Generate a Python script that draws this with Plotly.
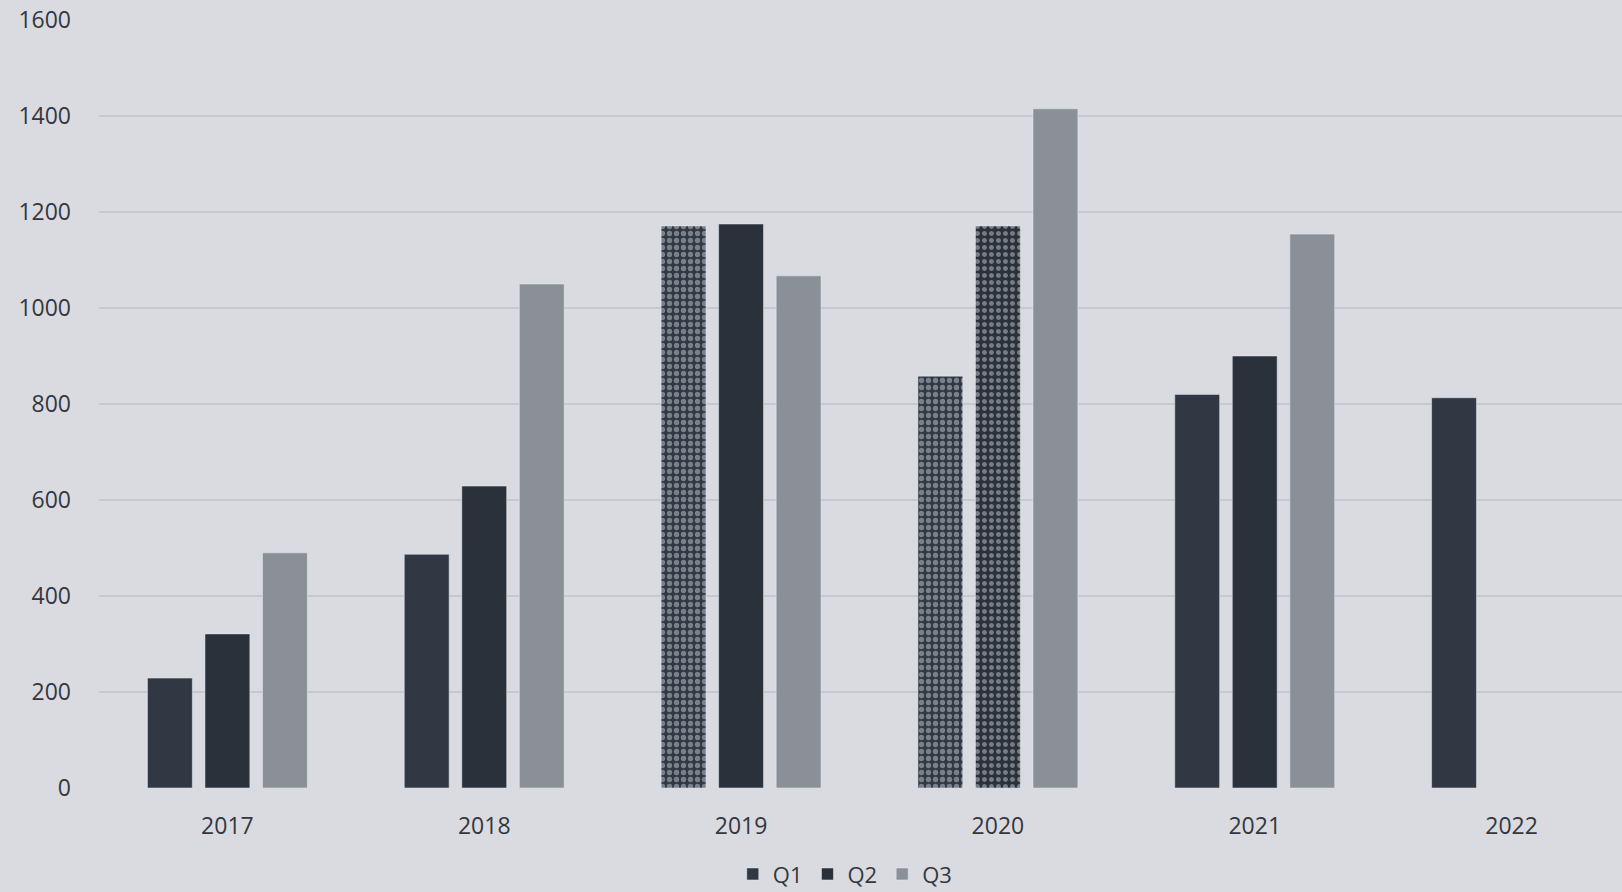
import plotly.graph_objects as go

years = ["2017", "2018", "2019", "2020", "2021", "2022"]
q1 = [229, 487, 1171, 858, 820, 813]
q2 = [321, 629, 1175, 1171, 900, None]
q3 = [490, 1050, 1067, 1415, 1154, None]
y_ticks = [0, 200, 400, 600, 800, 1000, 1200, 1400, 1600]

q1_patterns = ["", "", ".", ".", "", ""]
q2_patterns = ["", "", "", ".", "", ""]
q3_patterns = ["", "", "", "", "", ""]

BG = "#d9dbe1"
FONT = "Open Sans"
TXT = "#34373c"

fig = go.Figure()
fig.add_trace(go.Bar(
    name="Q1", x=years, y=q1,
    marker=dict(color="#313843",
                pattern=dict(shape=q1_patterns, fgcolor="#c4c8cf", size=7, solidity=0.45, fillmode="overlay")),
))
fig.add_trace(go.Bar(
    name="Q2", x=years, y=q2,
    marker=dict(color="#2a313b",
                pattern=dict(shape=q2_patterns, fgcolor="#c4c8cf", size=7, solidity=0.4, fillmode="overlay")),
))
fig.add_trace(go.Bar(
    name="Q3", x=years, y=q3,
    marker=dict(color="#8b9097",
                pattern=dict(shape=q3_patterns, fgcolor="#c4c8cf", size=7, solidity=0.3, fillmode="overlay")),
))

fig.update_layout(
    width=1622, height=892,
    barmode="group", bargap=0.328, bargroupgap=0.22,
    paper_bgcolor=BG, plot_bgcolor=BG,
    margin=dict(l=99, r=0, t=20, b=104),
    font=dict(family=FONT, size=23, color=TXT),
    showlegend=True,
    legend=dict(orientation="h", xref="paper", x=0.49, xanchor="center",
                yref="container", y=0.02, yanchor="middle",
                font=dict(family=FONT, size=22, color=TXT), bgcolor="rgba(0,0,0,0)",
                itemwidth=30),
    xaxis=dict(type="category", range=[-0.5, 5.43], showgrid=False, zeroline=False,
               showline=False, ticks="", ticklabelstandoff=22,
               tickfont=dict(family=FONT, size=23, color=TXT)),
    yaxis=dict(range=[0, 1600], tickvals=y_ticks, showgrid=True, gridcolor="#c5c8cf",
               gridwidth=1.5, zeroline=False, showline=False, ticks="",
               ticklabelstandoff=27,
               tickfont=dict(family=FONT, size=23, color=TXT)),
)

fig.write_html("out.html", config={"displayModeBar": False},
               post_script="document.body.style.margin='0';document.body.style.overflow='hidden';")
